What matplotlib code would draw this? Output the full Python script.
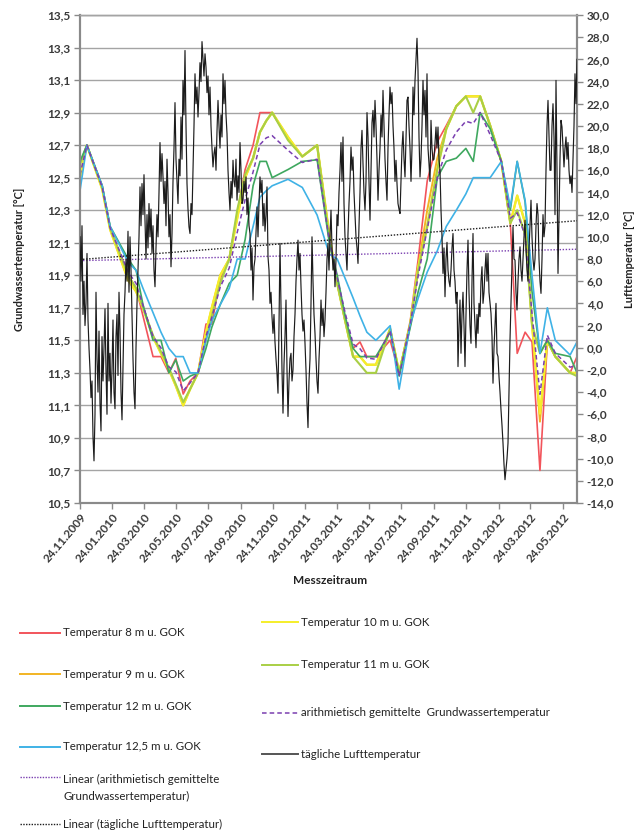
import matplotlib
matplotlib.use("Agg")
import matplotlib.pyplot as plt
import matplotlib.dates as mdates
from matplotlib.lines import Line2D
from matplotlib.ticker import FuncFormatter
import numpy as np
import pandas as pd

plt.rcParams['font.family'] = ['Lato', 'DejaVu Sans']

# ---------------- data ----------------
gw_dates = ['2009-11-24', '2009-12-07', '2010-01-05', '2010-01-20', '2010-02-23', '2010-03-10',
            '2010-03-23', '2010-04-11', '2010-04-26', '2010-05-11', '2010-05-24', '2010-06-07',
            '2010-06-20', '2010-07-05', '2010-07-20', '2010-07-31', '2010-08-16', '2010-09-02',
            '2010-09-17', '2010-10-02', '2010-10-17', '2010-10-30', '2010-11-11', '2010-11-22',
            '2010-12-22', '2011-01-18', '2011-02-15', '2011-03-10', '2011-03-25', '2011-04-09',
            '2011-04-24', '2011-05-07', '2011-05-20', '2011-06-06', '2011-07-03', '2011-07-20',
            '2011-08-10', '2011-08-25', '2011-09-11', '2011-09-30', '2011-10-17', '2011-11-05',
            '2011-11-23', '2011-12-07', '2011-12-20', '2012-01-08', '2012-01-29', '2012-02-15',
            '2012-02-28', '2012-03-14', '2012-03-27', '2012-04-11', '2012-04-25', '2012-05-10',
            '2012-06-07', '2012-06-20']

t08 = [12.50, 12.70, 12.45, 12.19, 11.90, 11.82, 11.65, 11.40, 11.40, 11.30, 11.39, 11.17,
       11.25, 11.30, 11.60, 11.60, 11.88, 12.00, 12.28, 12.55, 12.70, 12.90, 12.90, 12.90,
       12.74, 12.63, 12.70, 12.15, 11.85, 11.62, 11.45, 11.49, 11.40, 11.40, 11.50, 11.30,
       11.62, 12.00, 12.48, 12.72, 12.82, 12.94, 13.00, 13.00, 13.00, 12.82, 12.60, 12.22,
       11.42, 11.55, 11.49, 10.70, 11.49, 11.40, 11.30, 11.40]
t09 = [12.50, 12.70, 12.43, 12.18, 11.87, 11.80, 11.70, 11.52, 11.42, 11.32, 11.22, 11.10,
       11.20, 11.30, 11.55, 11.70, 11.90, 12.00, 12.25, 12.50, 12.62, 12.78, 12.85, 12.90,
       12.75, 12.63, 12.70, 12.15, 11.85, 11.62, 11.40, 11.40, 11.35, 11.35, 11.57, 11.30,
       11.60, 11.95, 12.30, 12.62, 12.80, 12.94, 13.00, 13.00, 13.00, 12.82, 12.60, 12.22,
       12.39, 12.22, 11.60, 11.00, 11.50, 11.40, 11.30, 11.30]
t10 = [12.50, 12.70, 12.43, 12.18, 11.87, 11.80, 11.70, 11.52, 11.42, 11.32, 11.22, 11.10,
       11.20, 11.30, 11.55, 11.70, 11.90, 12.00, 12.25, 12.50, 12.62, 12.78, 12.85, 12.90,
       12.75, 12.63, 12.70, 12.15, 11.85, 11.62, 11.40, 11.40, 11.35, 11.35, 11.57, 11.30,
       11.60, 11.95, 12.20, 12.55, 12.80, 12.94, 13.00, 13.00, 13.00, 12.82, 12.60, 12.22,
       12.39, 12.22, 11.60, 11.05, 11.50, 11.40, 11.30, 11.30]
t11 = [12.58, 12.70, 12.44, 12.19, 11.90, 11.82, 11.70, 11.53, 11.43, 11.33, 11.23, 11.12,
       11.20, 11.30, 11.50, 11.65, 11.85, 12.00, 12.30, 12.52, 12.62, 12.78, 12.85, 12.90,
       12.73, 12.63, 12.70, 12.12, 11.85, 11.62, 11.40, 11.35, 11.30, 11.30, 11.57, 11.30,
       11.60, 11.93, 12.20, 12.55, 12.80, 12.94, 13.00, 12.90, 13.00, 12.82, 12.60, 12.22,
       12.30, 12.15, 11.60, 11.42, 11.50, 11.40, 11.30, 11.28]
t12 = [12.60, 12.70, 12.45, 12.20, 12.00, 11.93, 11.72, 11.50, 11.50, 11.30, 11.38, 11.25,
       11.28, 11.30, 11.45, 11.58, 11.72, 11.85, 11.90, 12.12, 12.45, 12.60, 12.60, 12.50,
       12.55, 12.60, 12.61, 12.10, 11.90, 11.65, 11.45, 11.40, 11.40, 11.40, 11.55, 11.28,
       11.58, 11.80, 12.00, 12.50, 12.60, 12.62, 12.68, 12.60, 12.90, 12.80, 12.60, 12.30,
       12.60, 12.35, 11.80, 11.42, 11.50, 11.42, 11.40, 11.30]
t125 = [12.42, 12.70, 12.45, 12.20, 11.98, 11.93, 11.82, 11.67, 11.55, 11.45, 11.40, 11.40,
        11.30, 11.30, 11.50, 11.62, 11.72, 11.82, 12.00, 12.00, 12.20, 12.38, 12.42, 12.45,
        12.49, 12.44, 12.27, 12.03, 12.00, 11.88, 11.76, 11.65, 11.55, 11.50, 11.59, 11.20,
        11.60, 11.76, 11.92, 12.05, 12.20, 12.30, 12.40, 12.50, 12.50, 12.50, 12.60, 12.32,
        12.60, 12.36, 11.90, 11.42, 11.70, 11.50, 11.41, 11.49]

# daily air temperature (roughly every second day)
air_start, air_end = '2009-11-24', '2012-06-20'
air_temp = [
    10.0, 6.0, 11.0, 3.0, 6.0, 2.0, 4.0, 8.5, 2.5, 0.0, -2.0, -4.5, -3.0, -8.0, -10.2, -6.0,
    5.0, -1.0, -4.0, 1.5, -5.0, -7.5, 1.0, -3.0, 0.0, 3.5, -2.0, -6.0, 4.0, -3.0, -0.5, -5.0,
    -2.0, 2.5, -4.0, -5.5, 1.0, 3.0, -2.5, 5.0, 1.5, -4.0, -6.5, -2.0, 3.0, 5.0, 8.0, 6.0,
    10.5, 5.0, 10.0, 7.0, 3.0, -1.0, -4.0, -5.5, 0.0, 4.0, 7.0, 10.0, 14.5, 11.0, 14.8, 12.0,
    15.6, 11.5, 8.0, 12.0, 9.0, 13.0, 10.0, 12.5, 8.5, 11.0, 7.0, 5.5, 9.0, 12.0, 10.0, 14.0,
    18.5, 15.0, 17.5, 15.4, 13.0, 15.0, 11.0, 17.0, 14.0, 10.0, 12.0, 7.3, 10.3, 15.0, 18.0, 22.1,
    17.0, 15.0, 13.0, 17.0, 15.5, 20.8, 17.0, 24.1, 21.0, 26.8, 20.0, 14.8, 12.5, 10.9, 10.3, 13.0,
    12.0, 16.0, 20.0, 24.7, 22.0, 23.5, 20.8, 23.0, 25.7, 24.0, 27.6, 26.0, 24.5, 26.5, 25.3, 23.0,
    24.5, 21.0, 23.5, 20.0, 18.0, 16.3, 17.5, 18.1, 16.0, 19.5, 22.3, 20.0, 18.0, 21.0, 19.0, 24.7,
    22.0, 24.1, 21.0, 19.3, 16.0, 14.0, 12.4, 15.0, 13.5, 16.9, 15.0, 14.5, 17.0, 13.3, 15.5, 14.0,
    18.5, 16.0, 13.0, 13.3, 15.0, 14.0, 15.4, 12.0, 13.5, 11.0, 10.3, 7.0, 9.0, 4.3, 7.3, 8.0,
    10.3, 12.7, 10.0, 13.0, 15.4, 14.0, 15.1, 11.0, 13.0, 10.5, 12.0, 14.5, 8.2, 7.0, 4.0, 5.0,
    2.8, 1.3, 3.0, 0.5, -1.0, -2.3, -4.1, 2.0, 9.4, 4.0, -2.0, -5.9, -1.5, 1.0, 4.3, -2.0,
    -6.2, -3.0, -1.0, -0.5, -3.0, -2.0, 1.0, 3.0, 6.0, 8.0, 9.7, 7.0, 8.5, 5.5, 3.0, 1.5,
    2.5, 0.4, -2.0, -5.0, -7.2, -3.0, -1.0, 4.0, 10.0, 6.0, 3.0, 1.3, -1.0, -3.0, -4.1, -1.0,
    1.0, 4.3, 2.0, 3.5, 1.0, 2.5, 5.0, 8.0, 9.4, 7.0, 10.0, 12.4, 9.0, 7.0, 8.0, 5.5,
    8.0, 12.0, 11.0, 14.0, 16.0, 18.5, 15.0, 19.0, 13.0, 10.0, 8.5, 7.0, 10.3, 13.0, 15.0, 18.1,
    16.0, 17.2, 14.0, 12.0, 10.0, 9.0, 7.6, 11.0, 14.0, 18.0, 19.6, 16.6, 14.0, 12.4, 15.0, 21.2,
    19.0, 15.0, 11.5, 16.0, 20.3, 21.4, 19.0, 22.3, 20.0, 17.0, 13.3, 16.0, 18.0, 21.0, 19.0, 23.2,
    20.0, 17.0, 15.0, 13.3, 18.0, 21.0, 23.5, 22.0, 23.0, 20.0, 18.0, 15.0, 16.9, 14.8, 13.0, 12.5,
    12.1, 15.0, 18.0, 19.5, 17.0, 15.4, 19.0, 22.3, 22.6, 20.0, 18.0, 15.0, 18.0, 23.5, 21.0, 24.1,
    26.0, 27.9, 25.0, 19.0, 15.4, 17.0, 20.0, 24.1, 21.0, 23.2, 19.0, 24.7, 18.0, 16.6, 15.0, 20.5,
    18.0, 16.9, 17.0, 18.5, 19.9, 18.0, 19.9, 17.0, 16.0, 12.4, 10.0, 6.7, 9.0, 4.6, 8.0, 9.5,
    7.0, 6.0, 5.5, 7.0, 9.0, 10.3, 7.0, 6.0, 4.0, 5.0, -1.7, 2.0, 4.3, -0.5, 3.0, 5.0,
    2.0, -1.7, 3.0, 7.0, 9.7, 5.0, 2.0, 0.4, 6.0, 10.3, 4.0, 2.0, 0.0, 3.0, 1.3, 4.0,
    2.8, 6.0, 7.3, 4.0, 5.0, 7.0, 8.5, 6.0, 8.5, 5.0, 4.0, 3.1, 1.0, -3.2, 0.0, 2.0,
    4.0, -0.5, -0.8, -2.6, -4.0, -5.6, -7.0, -8.6, -10.5, -11.9, -11.0, -10.0, -8.6, -4.0, 0.7, 4.0,
    7.0, 10.9, 8.0, 7.9, 5.0, 3.4, 6.0, 8.0, 9.1, 7.0, 6.0, 8.0, 10.0, 11.5, 9.0, 7.0,
    6.0, 9.0, 11.0, 13.3, 10.0, 8.0, 7.0, 8.0, 11.0, 13.0, 12.0, 8.0, 6.0, 4.9, 8.0, 12.0,
    10.0, 11.0, 16.0, 20.0, 22.3, 19.0, 16.0, 16.0, 20.0, 22.0, 19.0, 12.0, 24.1, 16.0, 6.7, 12.0,
    17.0, 20.5, 19.9, 18.0, 16.3, 18.0, 19.0, 17.0, 18.5, 16.0, 14.8, 15.5, 14.0, 17.0, 20.0, 24.7,
    22.0, 26.0,
]

# linear trend lines (end values as drawn in the chart)
trend_dates = ['2009-11-24', '2012-06-20']
trend_gw = [11.99, 12.06]
trend_air = [7.95, 11.45]

x_ticks = ['2009-11-24', '2010-01-24', '2010-03-24', '2010-05-24', '2010-07-24', '2010-09-24',
           '2010-11-24', '2011-01-24', '2011-03-24', '2011-05-24', '2011-07-24', '2011-09-24',
           '2011-11-24', '2012-01-24', '2012-03-24', '2012-05-24']

labels = {
    't08': 'Temperatur 8 m u. GOK',
    't09': 'Temperatur 9 m u. GOK',
    't10': 'Temperatur 10 m u. GOK',
    't11': 'Temperatur 11 m u. GOK',
    't12': 'Temperatur 12 m u. GOK',
    't125': 'Temperatur 12,5 m u. GOK',
    'mean': 'arithmietisch gemittelte  Grundwassertemperatur',
    'air': 'tägliche Lufttemperatur',
    'lin_gw': 'Linear (arithmietisch gemittelte\nGrundwassertemperatur)',
    'lin_air': 'Linear (tägliche Lufttemperatur)',
}

# ---------------- styles ----------------
C_RED = '#f2545b'
C_ORANGE = '#f2b424'
C_YELLOW = '#f5ee2a'
C_LIME = '#a9cf45'
C_GREEN = '#3fa85f'
C_BLUE = '#3fb2e6'
C_PURPLE = '#7a3fb0'
C_BLACK = '#1c1c1c'

gd = pd.to_datetime(gw_dates)
gw_mean = np.mean(np.array([t08, t09, t10, t11, t12, t125]), axis=0)
air_dates = pd.date_range(air_start, air_end, periods=len(air_temp))
td = pd.to_datetime(trend_dates)

W, H = 638, 832
fig = plt.figure(figsize=(W / 100, H / 100), dpi=100)
ax = fig.add_axes([80 / W, 1 - 503 / H, 497 / W, 488 / H])

ax.plot(gd, t08, color=C_RED, lw=1.2, zorder=3)
ax.plot(gd, t09, color=C_ORANGE, lw=1.4, zorder=3)
ax.plot(gd, t10, color=C_YELLOW, lw=1.7, zorder=3)
ax.plot(gd, t11, color=C_LIME, lw=1.5, zorder=3)
ax.plot(gd, t12, color=C_GREEN, lw=1.2, zorder=3)
ax.plot(gd, t125, color=C_BLUE, lw=1.2, zorder=3)
ax.plot(gd, gw_mean, color=C_PURPLE, lw=1.1, ls=(0, (3, 2)), zorder=4)
ax.plot(td, trend_gw, color=C_PURPLE, lw=1.0, ls=(0, (1, 1.2)), zorder=4)

ax.set_ylim(10.5, 13.5)
ax.set_yticks(np.arange(10.5, 13.51, 0.2))
ax.set_xlim(pd.Timestamp(air_start), pd.Timestamp(air_end))
ax.set_xticks(pd.to_datetime(x_ticks))
ax.xaxis.set_major_formatter(mdates.DateFormatter('%d.%m.%Y'))
ax.yaxis.grid(True, color='#a4a4a4', lw=1.0)
ax.set_axisbelow(True)

ax2 = ax.twinx()
ax2.plot(air_dates, air_temp, color=C_BLACK, lw=0.85, zorder=5)
ax2.plot(td, trend_air, color=C_BLACK, lw=1.0, ls=(0, (1, 1.2)), zorder=5)
ax2.set_ylim(-14, 30)
ax2.set_yticks(np.arange(-14, 30.1, 2))
ax2.set_xlim(pd.Timestamp(air_start), pd.Timestamp(air_end))

comma = FuncFormatter(lambda v, p: ('%.1f' % v).replace('.', ','))
ax.yaxis.set_major_formatter(comma)
ax2.yaxis.set_major_formatter(comma)

for a in (ax, ax2):
    for s in a.spines.values():
        s.set_color('#8a8a8a')
        s.set_linewidth(1.5)
    a.spines['top'].set_color('#a4a4a4')
    a.spines['top'].set_linewidth(1.0)
    a.tick_params(colors='#8a8a8a', width=1.0, length=4)

ax.tick_params(axis='y', labelcolor='#3a3a3a', labelsize=8.5, pad=3)
ax2.tick_params(axis='y', labelcolor='#3a3a3a', labelsize=8.5, pad=3)
ax.tick_params(axis='x', labelcolor='#3a3a3a', labelsize=8.5, pad=2)
for lab in ax.get_yticklabels() + ax2.get_yticklabels():
    lab.set_fontweight('bold')
for lab in ax.get_xticklabels():
    lab.set_rotation(50)
    lab.set_ha('right')
    lab.set_rotation_mode('anchor')
    lab.set_fontweight('bold')

ax.set_ylabel('Grundwassertemperatur [°C]', fontsize=8, fontweight='bold', color='#222222', labelpad=16)
ax2.set_ylabel('Lufttemperatur [°C]', fontsize=8, fontweight='bold', color='#222222',
               rotation=90, labelpad=7)
fig.text(330 / W, 1 - 581 / H, 'Messzeitraum', ha='center', va='center',
         fontsize=8.5, fontweight='bold', color='#222222')

# ---------------- legend ----------------
def leg_entry(x0, x1, y, color, text, ls='-', lw=1.4):
    yf = 1 - y / H
    fig.add_artist(Line2D([x0 / W, x1 / W], [yf, yf], transform=fig.transFigure,
                          color=color, ls=ls, lw=lw))
    fig.text((x1 + 3) / W, yf, text, ha='left', va='center', fontsize=8.3, color='#222222',
             linespacing=1.6)

leg_entry(20, 60, 633, C_RED, labels['t08'])
leg_entry(20, 60, 674, C_ORANGE, labels['t09'])
leg_entry(20, 60, 706, C_GREEN, labels['t12'])
leg_entry(20, 60, 747, C_BLUE, labels['t125'])
yf = 1 - 777 / H
fig.add_artist(Line2D([20 / W, 60 / W], [yf, yf], transform=fig.transFigure,
                      color=C_PURPLE, ls=(0, (1, 1)), lw=1.0))
fig.text(63 / W, 1 - 788 / H, labels['lin_gw'], ha='left', va='center', fontsize=8.3,
         color='#222222', linespacing=1.6)
leg_entry(20, 60, 824, C_BLACK, labels['lin_air'], ls=(0, (1, 1)), lw=1.0)

leg_entry(262, 298, 622, C_YELLOW, labels['t10'])
leg_entry(262, 298, 665, C_LIME, labels['t11'])
leg_entry(262, 298, 713, C_PURPLE, labels['mean'], ls=(0, (3, 2)), lw=1.1)
leg_entry(262, 298, 754, '#555555', labels['air'], lw=1.4)

fig.savefig('out.png', dpi=100)
